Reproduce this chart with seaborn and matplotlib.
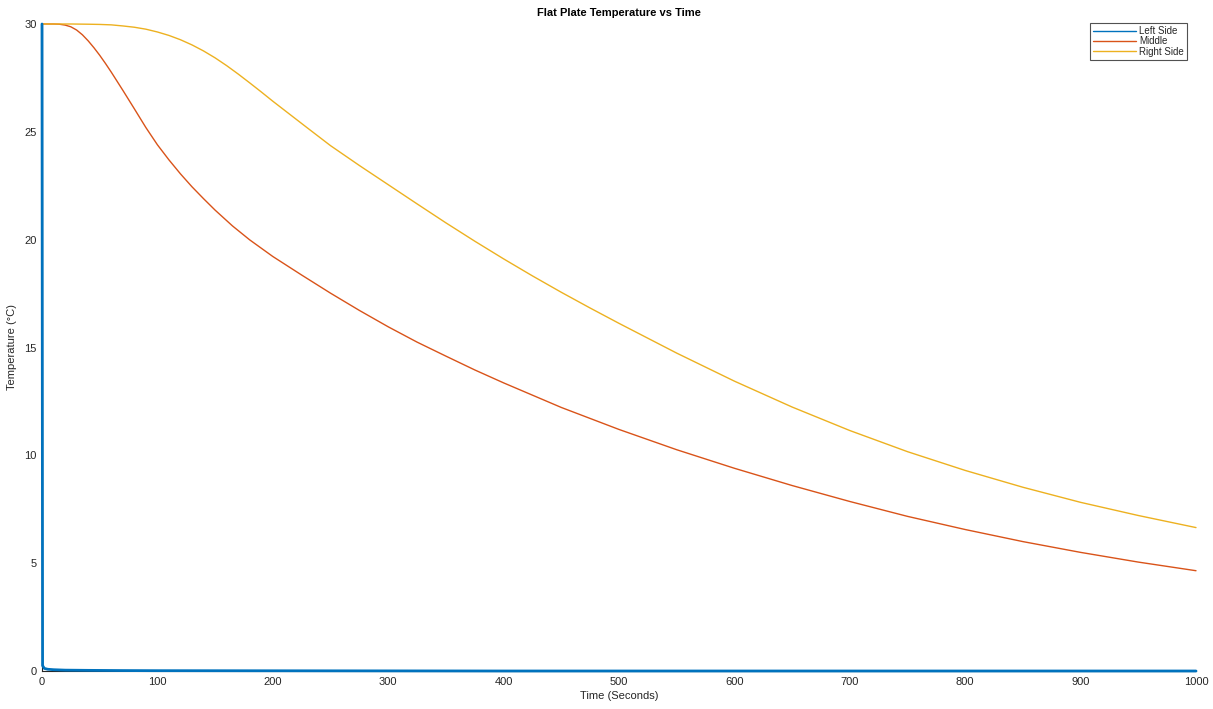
import numpy as np
import pandas as pd
import matplotlib
matplotlib.use("Agg")
import matplotlib.pyplot as plt
import seaborn as sns

# ---- data ----
t_left = [0, 0.5, 2, 5, 10, 20, 40, 70, 100, 200, 400, 600, 800, 1000]
left_side = [30.0, 0.25, 0.12, 0.08, 0.06, 0.04, 0.03, 0.02, 0.015, 0.01, 0.0, 0.0, 0.0, 0.0]

t_mid = [0, 5, 10, 15, 20, 25, 30, 35, 40, 45, 50, 55, 60, 65, 70, 75, 80, 90, 100,
         110, 120, 130, 140, 150, 165, 180, 200, 225, 250, 275, 300, 325, 350, 375,
         400, 450, 500, 550, 600, 650, 700, 750, 800, 850, 900, 950, 1000]
middle = [30.0, 30.0, 30.0, 29.99, 29.95, 29.87, 29.72, 29.5, 29.22, 28.9, 28.55,
          28.17, 27.77, 27.35, 26.93, 26.5, 26.07, 25.2, 24.4, 23.7, 23.05, 22.45,
          21.9, 21.37, 20.64, 19.99, 19.22, 18.36, 17.52, 16.72, 15.96, 15.25, 14.6,
          13.96, 13.36, 12.22, 11.2, 10.26, 9.4, 8.6, 7.86, 7.17, 6.56, 6.0, 5.5,
          5.05, 4.65]

t_right = [0, 25, 40, 50, 60, 70, 80, 90, 100, 110, 120, 130, 140, 150, 160, 170, 180,
           190, 200, 215, 230, 250, 275, 300, 325, 350, 375, 400, 425, 450, 475, 500,
           550, 600, 650, 700, 750, 800, 850, 900, 950, 1000]
right_side = [30.0, 30.0, 29.99, 29.98, 29.96, 29.91, 29.85, 29.76, 29.63, 29.47, 29.27,
              29.03, 28.75, 28.43, 28.07, 27.68, 27.27, 26.85, 26.42, 25.8, 25.18, 24.36,
              23.44, 22.55, 21.66, 20.78, 19.93, 19.11, 18.32, 17.56, 16.83, 16.12, 14.74,
              13.44, 12.24, 11.15, 10.17, 9.3, 8.52, 7.82, 7.21, 6.65]

series_names = ["Left Side", "Middle", "Right Side"]
colors = ["#0072BD", "#D95319", "#EDB120"]
x_ticks = list(range(0, 1001, 100))
y_ticks = list(range(0, 31, 5))

sns.set_style("white")
plt.rcParams['font.family'] = ['Liberation Sans', 'DejaVu Sans']

W, H = 1213, 709
fig = plt.figure(figsize=(W / 100, H / 100), dpi=100)
ax = fig.add_axes([42 / W, 38 / H, (1196 - 42) / W, (671 - 24) / H])

frames = [
    pd.DataFrame({"t": t_left, "T": left_side}),
    pd.DataFrame({"t": t_mid, "T": middle}),
    pd.DataFrame({"t": t_right, "T": right_side}),
]
widths = [2.0, 1.0, 1.0]
zorders = [5, 4, 4]
for df, name, c, w, z in zip(frames, series_names, colors, widths, zorders):
    sns.lineplot(data=df, x="t", y="T", ax=ax, color=c, linewidth=w, label=name,
                 estimator=None, sort=False, zorder=z)
for ln in ax.get_lines():
    ln.set_clip_on(False)
    ln.set_solid_joinstyle("round")

ax.set_xlim(0, 1000)
ax.set_ylim(0, 30)
ax.set_xticks(x_ticks)
ax.set_yticks(y_ticks)
ax.tick_params(direction="in", length=8.5, width=0.8, color="#262626",
               labelsize=8, labelcolor="#262626", pad=4)
for s in ["top", "right"]:
    ax.spines[s].set_visible(False)
for s in ["left", "bottom"]:
    ax.spines[s].set_color("#262626")
    ax.spines[s].set_linewidth(0.8)
    ax.spines[s].set_zorder(3)

ax.set_title("Flat Plate Temperature vs Time", fontsize=8, fontweight="bold",
             color="#000000", pad=6)
ax.set_xlabel("Time (Seconds)", fontsize=8, color="#262626")
ax.set_ylabel("Temperature (°C)", fontsize=8, color="#262626")
ax.yaxis.set_label_coords(-25 / (1196 - 42), 0.5)
ax.xaxis.set_label_coords(0.5, -20 / (671 - 24))

leg = ax.legend(loc="upper right", bbox_to_anchor=(1187 / W, 686 / H),
                bbox_transform=fig.transFigure, fontsize=7, frameon=True,
                fancybox=False, handlelength=4.5, handletextpad=0.3,
                borderpad=0.3, labelspacing=0.05, borderaxespad=0)
leg.get_frame().set_edgecolor("#262626")
leg.get_frame().set_linewidth(0.8)
for line in leg.get_lines():
    line.set_linewidth(1.0)

fig.savefig("out.png", dpi=100, facecolor="white")
